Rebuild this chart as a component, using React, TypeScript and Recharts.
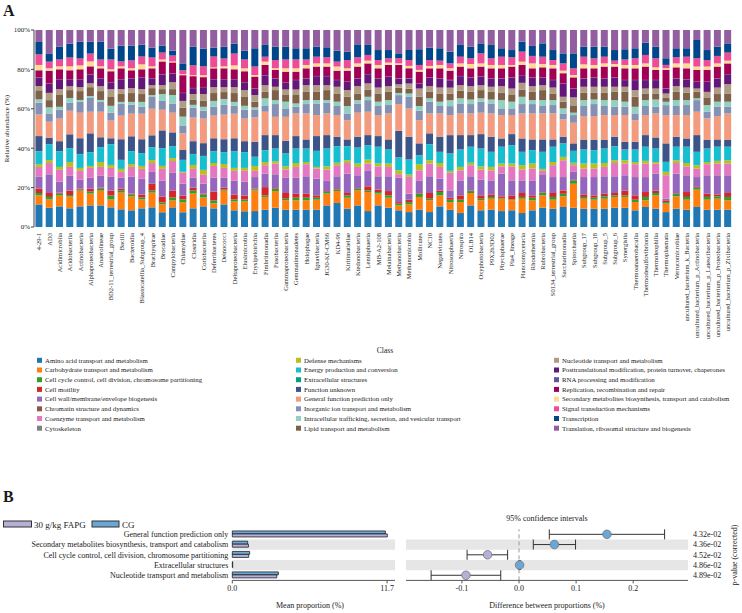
import React from "react";
import {
  BarChart,
  Bar,
  XAxis,
  YAxis,
  ScatterChart,
  Scatter,
  ErrorBar,
  ReferenceArea,
  ReferenceLine,
} from "recharts";

const FONT = "'Liberation Serif', 'Times New Roman', Times, serif";
const INK = "#1a1a1a";

// ---- Panel A: COG function profile per bacterial class (relative abundance, %) ----

const bacterialClasses = [
  "4-29-1", "AD3", "Acidimicrobiia", "Acidobacteriia", "Actinobacteria", "Alphaproteobacteria",
  "Anaerolineae", "BD2-11_terrestrial_group", "Bacilli", "Bacteroidia", "Blastocatellia_Subgroup_4",
  "Brachyspirae", "Brocadiae", "Campylobacteria", "Chlamydiae", "Clostridia", "Coriobacteriia",
  "Deferribacteres", "Deinococci", "Deltaproteobacteria", "Elusimicrobia", "Erysipelotrichia",
  "Fimbriimonadia", "Fusobacteriia", "Gammaproteobacteria", "Gemmatimonadetes", "Holophagae",
  "Ignavibacteria", "JG30-KF-CM66", "KD4-96", "Kiritimatiellae", "Ktedonobacteria", "Lentisphaeria",
  "MB-A2-108", "Melainabacteria", "Methanobacteria", "Methanomicrobia", "Mollicutes", "NC10",
  "Negativicutes", "Nitrososphaeria", "Nitrospira", "OLB14", "Oxyphotobacteria", "P9X2b3D02",
  "Phycisphaerae", "Pla4_lineage", "Planctomycetacia", "Rhodothermia", "Rubrobacteria",
  "S0134_terrestrial_group", "Saccharimonadia", "Spirochaetia", "Subgroup_17", "Subgroup_18",
  "Subgroup_5", "Subgroup_6", "Synergistia", "Thermoanaerobaculia", "Thermodesulfovibrionia",
  "Thermoleophilia", "Thermoplasmata", "Verrucomicrobiae", "uncultured_bacterium_k_Bacteria",
  "uncultured_bacterium_p_Actinobacteria", "uncultured_bacterium_p_Latescibacteria",
  "uncultured_bacterium_p_Proteobacteria", "uncultured_bacterium_p_Zixibacteria",
];

const aminoAcid = [
  11.5, 9.8, 10.5, 9.5, 10.5, 11, 11, 10, 9, 8.5,
  9.5, 10, 7.5, 10, 7.5, 9.5, 10.5, 9.5, 11.5, 8.5,
  8, 8.1, 8.8, 9.8, 8.8, 8.8, 8.8, 8.8, 11, 12.2,
  9.3, 11, 8.1, 11, 9.8, 8.5, 7.6, 8.8, 7.6, 10.5,
  8.8, 7.1, 11, 8.5, 8.8, 8.1, 8.5, 7.1, 8.5, 9.8,
  9.3, 10.2, 9.8, 9.3, 9.3, 9.3, 9.8, 9.8, 8.5, 10.2,
  9.3, 7.6, 9.3, 8.8, 10.2, 8.8, 8.8, 8.8,
];
const carbohydrate = [
  4.6, 4.2, 5.5, 6.0, 8.0, 6, 7.5, 4, 8.5, 7,
  4.5, 7.5, 4, 3.5, 5, 7.5, 4.5, 2.5, 7, 4.5,
  5, 10.5, 6.5, 8.5, 4.8, 4.8, 4.8, 5.1, 6, 6.1,
  5.6, 7.6, 9.7, 6, 5.1, 2.5, 3.9, 6.5, 6.0, 5.6,
  3.9, 5.6, 6.3, 5.1, 5.6, 6.3, 5.1, 7.3, 5.1, 6.3,
  4.6, 5.4, 12.2, 5.1, 4.6, 5.1, 5.5, 5.5, 4.2, 3.4,
  6.8, 4.3, 6.3, 5.1, 8.8, 5.1, 5.6, 4.8,
];
const cellCycle = [
  1.2, 1.3, 1.0, 0.8, 0.5, 1, 1, 2, 1, 1,
  1, 1, 1, 1.5, 1.5, 1.5, 1.5, 1.5, 0.5, 1,
  1, 0.6, 0.8, 1.2, 0.8, 1.3, 1.3, 1.0, 0.8, 0.7,
  1.2, 0.9, 0.8, 0.8, 1.2, 0.9, 1.2, 1.6, 0.8, 1.7,
  1.2, 1.2, 1.0, 0.8, 0.9, 0.4, 0.4, 0.9, 1.3, 1.2,
  1.4, 1.3, 1.7, 0.9, 1.0, 1.2, 0.8, 0.8, 1.2, 1.7,
  1.2, 0.8, 1.3, 1.4, 1.0, 1.4, 1.2, 1.7,
];
const cellMotility = [
  2.2, 2.0, 0.5, 2.2, 0.5, 1.5, 0.5, 2.5, 1, 0.5,
  1.5, 3.5, 3, 3.5, 2, 1.5, 0.5, 4.5, 1, 2.5,
  2, 0.4, 4.2, 0.3, 2.9, 2.0, 2.0, 1.2, 0.4, 0.3,
  1.2, 0.3, 2.1, 1.2, 2.2, 0.8, 1.2, 0.3, 2.9, 0.8,
  1.0, 2.2, 0.3, 1.7, 1.3, 0.8, 2.1, 2.0, 1.2, 0.3,
  2.0, 1.7, 0.3, 1.3, 1.2, 1.3, 1.2, 2.5, 2.2, 2.5,
  1.3, 0.9, 0.3, 2.5, 0.4, 1.6, 1.0, 2.0,
];
const cellWall = [
  6.0, 9.5, 5.5, 7.5, 4.5, 5.5, 6, 7, 5.5, 8.5,
  8, 6, 8, 9, 6, 5, 5, 7, 5, 7,
  7, 5.8, 6.8, 7.0, 7.7, 8.1, 8.9, 8.5, 5.2, 6.5,
  9.8, 6.5, 8.1, 6.8, 7.5, 12.3, 3.0, 6.5, 8.5, 6.0,
  3.7, 7.6, 7.2, 8.0, 7.1, 11.5, 7.6, 6.4, 7.6, 9.2,
  8.1, 6.8, 4.0, 8.8, 9.3, 8.9, 8.5, 7.7, 9.3, 7.6,
  8.5, 0.8, 9.9, 8.5, 5.0, 9.4, 9.7, 9.0,
];
const chromatin = [
  0.05, 0.05, 0.05, 0.05, 0.05, 0.05, 0.05, 0.05, 0.05, 0.05,
  0.05, 0.05, 0.05, 0.05, 0.05, 0.05, 0.05, 0.05, 0.05, 0.05,
  0.05, 0.05, 0.05, 0.05, 0.05, 0.05, 0.05, 0.05, 0.05, 0.05,
  0.05, 0.05, 0.05, 0.05, 0.05, 0.1, 0.1, 0.05, 0.05, 0.05,
  0.1, 0.05, 0.05, 0.05, 0.05, 0.05, 0.05, 0.05, 0.05, 0.05,
  0.05, 0.05, 0.05, 0.05, 0.05, 0.05, 0.05, 0.05, 0.05, 0.05,
  0.05, 0.1, 0.05, 0.05, 0.05, 0.05, 0.05, 0.05,
];
const coenzyme = [
  5.0, 5.7, 6.0, 4.5, 4.5, 5, 4.5, 4.5, 3, 5,
  5, 4.5, 6, 6, 5.5, 4.5, 4.5, 6, 5, 5,
  5.5, 3.1, 4.3, 5.4, 4.2, 5.5, 6.1, 5.1, 5.8, 5.6,
  5.4, 4.2, 3.4, 5.0, 4.7, 1.8, 8.5, 5.1, 6.4, 5.9,
  8.9, 5.1, 5.6, 5.1, 5.1, 3.7, 7.1, 5.5, 6.0, 1.7,
  6.0, 8.5, 3.4, 4.3, 4.3, 4.7, 6.7, 5.9, 6.5, 6.8,
  5.1, 11.9, 5.4, 4.5, 4.3, 5.6, 5.9, 5.9,
];
const cytoskeleton = [
  0.03, 0.03, 0.03, 0.03, 0.03, 0.03, 0.03, 0.03, 0.03, 0.03,
  0.03, 0.03, 0.03, 0.03, 0.03, 0.03, 0.03, 0.03, 0.03, 0.03,
  0.03, 0.03, 0.03, 0.03, 0.03, 0.03, 0.03, 0.03, 0.03, 0.03,
  0.03, 0.03, 0.03, 0.03, 0.03, 0.03, 0.03, 0.03, 0.03, 0.03,
  0.03, 0.03, 0.03, 0.03, 0.03, 0.03, 0.03, 0.03, 0.03, 0.03,
  0.03, 0.03, 0.03, 0.03, 0.03, 0.03, 0.03, 0.03, 0.03, 0.03,
  0.03, 0.03, 0.03, 0.03, 0.03, 0.03, 0.03, 0.03,
];
const defense = [
  1.4, 1.5, 1.5, 2.5, 1.5, 1, 2.5, 1.5, 1.5, 1.5,
  1.5, 1.5, 1.5, 1.5, 0.5, 2, 2.5, 1.5, 2, 1.5,
  1.5, 2.5, 1.6, 1.2, 1.6, 2.0, 1.1, 0.8, 1.6, 1.2,
  1.4, 1.7, 2.0, 1.4, 1.7, 2.0, 1.2, 3.1, 1.7, 2.0,
  1.0, 1.7, 1.2, 1.6, 1.7, 1.4, 1.4, 2.2, 2.5, 1.0,
  1.6, 1.7, 1.2, 2.5, 2.5, 2.0, 1.4, 1.7, 1.1, 1.4,
  0.8, 1.7, 1.4, 1.7, 1.7, 1.1, 1.4, 1.7,
];
const energy = [
  6.6, 8.0, 8.0, 7.0, 7.0, 7, 7.5, 10.5, 4.5, 6.5,
  6.5, 6.5, 9, 6, 6, 5.5, 7, 6, 6, 8.5,
  8, 4.6, 6.0, 6.4, 6.5, 7.3, 6.8, 8.1, 9.0, 8.4,
  7.1, 8.1, 7.3, 8.5, 7.1, 6.5, 7.6, 4.5, 8.1, 5.6,
  8.8, 8.8, 8.1, 9.0, 7.6, 8.5, 9.3, 6.7, 6.8, 8.6,
  7.7, 6.8, 6.0, 7.1, 6.8, 7.3, 7.1, 5.4, 6.3, 7.1,
  6.8, 5.0, 6.8, 8.2, 6.7, 6.8, 7.1, 6.8,
];
const extracellular = [
  0.1, 0.1, 0.1, 0.1, 0.1, 0.1, 0.1, 0.1, 0.1, 0.1,
  0.1, 0.1, 0.1, 0.1, 0.1, 0.1, 0.1, 0.1, 0.1, 0.1,
  0.1, 0.1, 0.1, 0.1, 0.1, 0.1, 0.1, 0.1, 0.1, 0.1,
  0.1, 0.1, 0.1, 0.1, 0.1, 0.1, 0.1, 0.1, 0.1, 0.1,
  0.1, 0.1, 0.1, 0.1, 0.1, 0.1, 0.1, 0.1, 0.1, 0.1,
  0.1, 0.1, 0.1, 0.1, 0.1, 0.1, 0.1, 0.1, 0.1, 0.1,
  0.1, 0.1, 0.1, 0.1, 0.1, 0.1, 0.1, 0.1,
];
const unknownFunction = [
  7.6, 3.3, 5.0, 7.0, 8.0, 9.5, 5, 3, 10.5, 7.5,
  7, 6, 9, 7, 5, 6.5, 6.5, 6.5, 6.5, 6.5,
  5.5, 7.6, 7.6, 6.8, 6.4, 6.3, 4.6, 7.5, 6.8, 4.8,
  3.4, 5.5, 5.1, 5.4, 5.1, 13.5, 11.6, 6.0, 5.5, 7.7,
  9.3, 7.3, 5.9, 7.3, 7.7, 4.2, 5.6, 6.8, 5.4, 6.3,
  3.7, 3.4, 3.8, 4.8, 5.1, 4.3, 4.8, 3.9, 3.9, 5.9,
  5.6, 9.4, 5.1, 4.2, 8.5, 4.3, 3.7, 3.4,
];
const generalFunction = [
  11.0, 8.1, 11.5, 12.0, 13.0, 11, 13, 9, 12, 11.5,
  13, 13.5, 10.5, 10, 8.5, 12, 12.5, 11.5, 12.5, 12.5,
  11.5, 12.4, 11.9, 9.3, 12.2, 11.5, 13.2, 10.7, 11.0, 11.0,
  9.8, 12.2, 11.9, 10.7, 13.2, 13.6, 14.4, 11.8, 10.1, 11.8,
  10.2, 11.0, 11.0, 10.9, 11.8, 11.9, 9.7, 12.7, 13.2, 13.2,
  13.2, 8.8, 10.5, 12.2, 12.2, 12.7, 11.0, 13.6, 11.0, 10.2,
  12.2, 14.4, 11.0, 11.9, 11.9, 11.0, 11.9, 13.5,
];
const inorganicIon = [
  6.0, 4.2, 4.5, 4.0, 5.5, 7, 5, 4, 6, 4.5,
  3.5, 6, 4.5, 4.5, 4, 5, 4, 4.5, 5, 4,
  4.5, 4.1, 2.9, 6.5, 4.3, 3.4, 4.8, 5.9, 5.4, 4.6,
  3.4, 4.7, 5.9, 4.6, 4.3, 4.6, 5.9, 4.8, 6.0, 3.8,
  4.6, 5.1, 4.8, 5.6, 5.1, 3.4, 3.4, 4.8, 4.8, 3.8,
  4.3, 3.0, 3.9, 5.1, 6.1, 4.6, 4.2, 4.2, 3.4, 4.6,
  3.4, 5.1, 4.6, 5.1, 5.9, 3.4, 4.7, 3.4,
];
const intracellular = [
  1.7, 3.1, 1.5, 2.5, 1.0, 1, 1, 3.5, 1, 1.5,
  2.5, 1, 3.5, 4.5, 4.5, 1.5, 2, 3, 3, 2,
  2, 1.0, 3.9, 2.0, 3.4, 1.7, 2.0, 1.7, 1.4, 2.2,
  3.8, 1.7, 1.7, 2.2, 2.5, 1.1, 1.7, 2.4, 1.7, 2.2,
  3.0, 2.6, 2.3, 1.7, 2.0, 4.2, 3.4, 3.7, 2.0, 3.0,
  2.5, 2.6, 1.2, 3.0, 2.3, 3.0, 3.4, 2.6, 3.4, 3.0,
  3.7, 1.7, 3.0, 2.5, 0.9, 3.4, 2.6, 2.6,
];
const lipid = [
  4.6, 3.7, 6.0, 4.0, 4.5, 4.5, 4.5, 4.5, 4, 4.5,
  4, 3.5, 2.5, 3, 4.5, 2.5, 3, 4, 3.5, 4.5,
  4.5, 2.9, 3.3, 5.1, 3.4, 4.3, 4.2, 4.2, 5.1, 4.2,
  4.7, 3.4, 3.7, 4.2, 4.2, 2.7, 2.5, 4.7, 3.3, 4.2,
  3.4, 3.9, 3.9, 4.2, 3.9, 3.7, 3.4, 3.7, 4.2, 5.1,
  3.4, 3.4, 3.4, 3.7, 3.4, 3.7, 4.2, 5.0, 5.1, 3.4,
  3.1, 2.2, 4.2, 3.7, 3.3, 3.9, 3.9, 4.2,
];
const nucleotide = [
  2.2, 3.7, 3.0, 2.0, 2.0, 2, 2.5, 4, 2.5, 2.5,
  2.5, 1.5, 2, 3.5, 3.5, 3, 3.5, 3, 2.5, 3,
  3.5, 3.4, 3.4, 1.7, 2.8, 2.8, 3.4, 3.4, 2.5, 3.4,
  3.4, 3.7, 3.1, 3.0, 2.9, 1.7, 2.6, 4.2, 2.9, 3.0,
  3.0, 2.8, 2.9, 2.5, 2.6, 3.4, 3.3, 3.4, 2.9, 2.5,
  3.0, 2.5, 4.4, 3.1, 3.1, 3.1, 2.6, 2.6, 3.4, 2.5,
  2.5, 2.0, 2.9, 2.7, 1.7, 2.8, 3.3, 4.7,
];
const posttranslational = [
  4.2, 4.8, 5.0, 3.5, 4.0, 4.5, 4, 3.5, 5, 5,
  6, 3.5, 5.5, 4.5, 4, 3, 3.5, 4, 4, 4,
  4, 3.3, 5.0, 4.2, 3.4, 4.8, 3.4, 4.6, 4.6, 3.4,
  4.2, 3.9, 4.7, 4.6, 4.8, 2.9, 2.5, 2.6, 4.4, 4.6,
  3.8, 4.6, 4.4, 4.3, 4.2, 3.9, 5.6, 3.9, 4.4, 3.9,
  3.8, 6.8, 4.5, 4.2, 4.7, 4.2, 4.7, 3.4, 5.1, 4.3,
  4.3, 2.5, 3.9, 4.1, 3.4, 5.1, 4.6, 5.1,
];
const rnaProcessing = [
  0.1, 0.1, 0.1, 0.1, 0.1, 0.1, 0.1, 0.1, 0.1, 0.1,
  0.1, 0.1, 0.1, 0.1, 0.1, 0.1, 0.1, 0.1, 0.1, 0.1,
  0.1, 0.1, 0.1, 0.1, 0.1, 0.1, 0.1, 0.1, 0.1, 0.1,
  0.1, 0.1, 0.1, 0.1, 0.1, 0.2, 0.2, 0.1, 0.1, 0.1,
  0.2, 0.1, 0.1, 0.1, 0.1, 0.1, 0.1, 0.1, 0.1, 0.1,
  0.1, 0.1, 0.1, 0.1, 0.1, 0.1, 0.1, 0.1, 0.1, 0.1,
  0.1, 0.2, 0.1, 0.1, 0.1, 0.1, 0.1, 0.1,
];
const replication = [
  3.7, 6.4, 5.0, 4.5, 5.0, 4, 5, 5.5, 5.5, 4,
  4, 5, 6.5, 5.5, 9, 6, 5, 5.5, 5.5, 5,
  5.5, 6.0, 5.2, 4.3, 5.6, 4.2, 5.1, 4.8, 4.8, 4.7,
  5.6, 6.0, 5.4, 5.1, 5.9, 6.8, 5.1, 5.9, 4.6, 5.1,
  4.7, 4.8, 4.6, 5.1, 5.1, 5.1, 5.5, 5.1, 4.6, 5.1,
  5.9, 5.1, 5.6, 5.1, 4.6, 6.0, 5.5, 5.9, 5.9, 6.8,
  5.1, 9.4, 5.6, 5.6, 6.0, 6.0, 6.0, 5.4,
];
const secondaryMetabolites = [
  2.7, 1.2, 1.5, 2.0, 2.0, 2.5, 1, 1, 1, 1,
  2.5, 1, 1, 0.5, 0.5, 0.5, 1, 0.5, 1, 2,
  1.5, 0.8, 1.7, 0.8, 1.7, 1.7, 1.7, 1.6, 1.6, 2.1,
  1.2, 1.6, 1.4, 1.7, 1.2, 0.8, 1.2, 0.9, 1.2, 1.7,
  1.2, 1.6, 2.2, 1.6, 1.7, 1.7, 0.8, 1.7, 2.5, 1.7,
  1.7, 1.3, 1.2, 2.0, 1.7, 1.6, 1.3, 1.7, 1.7, 1.6,
  1.3, 0.8, 2.0, 2.5, 1.7, 1.7, 1.6, 1.4,
];
const signalTransduction = [
  5.4, 3.4, 3.5, 4.5, 3.5, 4, 3.5, 5, 2.5, 4,
  4, 4.5, 3.5, 3, 2, 5, 4.5, 5.5, 4, 6,
  4.5, 4.3, 2.5, 4.2, 4.5, 4.5, 2.8, 3.4, 3.1, 2.5,
  4.2, 3.1, 2.9, 2.5, 2.2, 2.6, 3.0, 2.5, 3.0, 2.2,
  2.5, 3.4, 2.9, 5.1, 3.4, 4.2, 3.9, 5.1, 3.8, 3.7,
  2.5, 3.7, 3.4, 3.9, 3.4, 3.4, 1.7, 2.8, 3.4, 4.3,
  4.6, 1.7, 3.1, 3.4, 4.2, 3.3, 3.8, 4.1,
];
const transcription = [
  6.3, 4.2, 6.5, 7.0, 8.5, 6, 9, 5.5, 8, 7.5,
  6, 5, 3.5, 2.5, 3.5, 9.5, 9, 4.5, 6, 5,
  4.5, 9.3, 6.0, 6.8, 6.5, 5.7, 5.7, 5.1, 5.1, 5.6,
  4.3, 6.6, 5.1, 5.1, 4.2, 2.5, 5.1, 8.0, 6.3, 6.3,
  6.0, 6.0, 5.9, 5.1, 6.8, 4.3, 3.7, 5.1, 5.1, 6.8,
  5.1, 5.1, 7.6, 5.1, 5.9, 5.1, 5.4, 5.2, 5.1, 6.3,
  5.9, 3.4, 4.6, 4.3, 9.3, 5.1, 4.7, 4.7,
];
const translation = [
  6.1, 11.9, 8.5, 7.0, 6.0, 6, 6, 9.5, 8, 8,
  7.5, 9, 8, 10.5, 17, 8.5, 9.5, 9, 8.5, 7,
  10.5, 9.3, 7.6, 8.5, 8.5, 9.3, 9.3, 8.5, 8.8, 10.5,
  11, 7.3, 7.6, 10.2, 10.2, 11.9, 10.2, 9.8, 9.0, 9.3,
  11.0, 7.6, 8.5, 6.8, 7.6, 9.3, 10.2, 5.9, 8.1, 6.8,
  10.2, 11.9, 11.9, 8.5, 8.5, 8.5, 10.2, 9.8, 9.3, 6.4,
  8.5, 14.4, 9.3, 9.3, 5.1, 10.2, 8.5, 6.8,
];

// stacked bottom -> top, same order as the legend (column by column)
const cogSeries = [
  { key: "aminoAcid", label: "Amino acid transport and metabolism", color: "#1F77B4", values: aminoAcid },
  { key: "carbohydrate", label: "Carbohydrate transport and metabolism", color: "#FF7F0E", values: carbohydrate },
  { key: "cellCycle", label: "Cell cycle control, cell division, chromosome partitioning", color: "#2CA02C", values: cellCycle },
  { key: "cellMotility", label: "Cell motility", color: "#D62728", values: cellMotility },
  { key: "cellWall", label: "Cell wall/membrane/envelope biogenesis", color: "#9467BD", values: cellWall },
  { key: "chromatin", label: "Chromatin structure and dynamics", color: "#8C564B", values: chromatin },
  { key: "coenzyme", label: "Coenzyme transport and metabolism", color: "#E377C2", values: coenzyme },
  { key: "cytoskeleton", label: "Cytoskeleton", color: "#7F7F7F", values: cytoskeleton },
  { key: "defense", label: "Defense mechanisms", color: "#BCBD22", values: defense },
  { key: "energy", label: "Energy production and conversion", color: "#17BECF", values: energy },
  { key: "extracellular", label: "Extracellular structures", color: "#00A087", values: extracellular },
  { key: "unknownFunction", label: "Function unknown", color: "#3C5488", values: unknownFunction },
  { key: "generalFunction", label: "General function prediction only", color: "#F39B7F", values: generalFunction },
  { key: "inorganicIon", label: "Inorganic ion transport and metabolism", color: "#8491B4", values: inorganicIon },
  { key: "intracellular", label: "Intracellular trafficking, secretion, and vesicular transport", color: "#91D1C2", values: intracellular },
  { key: "lipid", label: "Lipid transport and metabolism", color: "#7E6148", values: lipid },
  { key: "nucleotide", label: "Nucleotide transport and metabolism", color: "#B09C85", values: nucleotide },
  { key: "posttranslational", label: "Posttranslational modification, protein turnover, chaperones", color: "#631879", values: posttranslational },
  { key: "rnaProcessing", label: "RNA processing and modification", color: "#5F559B", values: rnaProcessing },
  { key: "replication", label: "Replication, recombination and repair", color: "#A20056", values: replication },
  { key: "secondaryMetabolites", label: "Secondary metabolites biosynthesis, transport and catabolism", color: "#FFDC91", values: secondaryMetabolites },
  { key: "signalTransduction", label: "Signal transduction mechanisms", color: "#EE4C97", values: signalTransduction },
  { key: "transcription", label: "Transcription", color: "#00468B", values: transcription },
  { key: "translation", label: "Translation, ribosomal structure and biogenesis", color: "#925E9F", values: translation },
];

const abundanceRows = bacterialClasses.map((name, i) => {
  const row: Record<string, string | number> = { name };
  cogSeries.forEach((s) => {
    row[s.key] = s.values[i];
  });
  return row;
});

// ---- Panel B: STAMP comparison, 30 g/kg FAPG vs CG ----

const stampFunctions = [
  "General function prediction only",
  "Secondary metabolites biosynthesis, transport and catabolism",
  "Cell cycle control, cell division, chromosome partitioning",
  "Extracellular structures",
  "Nucleotide transport and metabolism",
];
const meanCG = [11.57, 1.16, 1.31, 0.03, 3.48];
const meanFAPG = [11.72, 1.22, 1.24, 0.03, 3.36];
const diffMean = [0.154, 0.062, -0.055, 0.001, -0.093];
const ciLow = [0.053, 0.025, -0.091, 0.0, -0.154];
const ciHigh = [0.255, 0.099, -0.02, 0.002, -0.032];
const pValues = ["4.32e-02", "4.36e-02", "4.52e-02", "4.86e-02", "4.89e-02"];

const CG_COLOR = "#6BA7D6";
const FAPG_COLOR = "#B6B0D8";
const BAND = "#E6E6E6";

const meanRows = stampFunctions.map((name, i) => ({ name, cg: meanCG[i], fapg: meanFAPG[i] }));
const diffRows = stampFunctions.map((name, i) => ({
  name,
  row: i + 1,
  diff: diffMean[i],
  err: [diffMean[i] - ciLow[i], ciHigh[i] - diffMean[i]],
}));

const ClassTick = ({ x, y, payload }: any) => (
  <text
    transform={`translate(${x + 2.3},${y + 4}) rotate(-90)`}
    textAnchor="end"
    fontSize={6.5}
    fontFamily={FONT}
    fill={INK}
  >
    {payload.value}
  </text>
);

const FunctionTick = ({ x, y, payload }: any) => (
  <text x={x} y={y} dy={2.8} textAnchor="end" fontSize={8} fontFamily={FONT} fill={INK}>
    {payload.value}
  </text>
);

const PValueTick = ({ x, y, payload }: any) => (
  <text x={x} y={y} dy={2.8} textAnchor="start" fontSize={8} fontFamily={FONT} fill={INK} stroke="none">
    {pValues[payload.value - 1]}
  </text>
);

const DiffDot = ({ cx, cy, payload }: any) => (
  <circle cx={cx} cy={cy} r={4.3} fill={payload.diff > 0 ? CG_COLOR : FAPG_COLOR} stroke="#6a6a6a" strokeWidth={0.7} />
);

const legendX = [37, 296, 554];

export default function App() {
  return (
    <div style={{ position: "absolute", left: 0, top: 0, width: 742, height: 613, background: "#fff" }}>
      <div style={{ position: "absolute", left: 0, top: 0 }}>
        <BarChart
          width={742}
          height={350}
          data={abundanceRows}
          stackOffset="expand"
          barCategoryGap="14%"
          margin={{ top: 30, right: 9, left: 12, bottom: 3 }}
        >
          <XAxis
            dataKey="name"
            interval={0}
            height={120}
            tickSize={0}
            tickLine={false}
            axisLine={false}
            tick={(p: any) => <ClassTick {...p} />}
          />
          <YAxis
            width={22}
            domain={[0, 1]}
            ticks={[0, 0.2, 0.4, 0.6, 0.8, 1]}
            tickFormatter={(v: number) => `${Math.round(v * 100)}%`}
            tick={{ fontSize: 7, fill: INK, fontFamily: FONT }}
            tickSize={3}
            tickMargin={1}
            stroke="#444"
          />
          {cogSeries.map((s) => (
            <Bar key={s.key} dataKey={s.key} stackId="cog" fill={s.color} isAnimationActive={false} />
          ))}
        </BarChart>
      </div>

      <div style={{ position: "absolute", left: 0, top: 520 }}>
        <BarChart
          layout="vertical"
          width={400}
          height={93}
          data={meanRows}
          barCategoryGap="17%"
          barGap={0}
          margin={{ top: 9.2, right: 5, left: 0, bottom: 0 }}
        >
          <ReferenceArea y1={stampFunctions[1]} y2={stampFunctions[1]} fill={BAND} fillOpacity={1} stroke="none" />
          <ReferenceArea y1={stampFunctions[3]} y2={stampFunctions[3]} fill={BAND} fillOpacity={1} stroke="none" />
          <XAxis
            type="number"
            domain={[0, 12.3]}
            ticks={[0, 11.7]}
            tickFormatter={(v: number) => v.toFixed(1)}
            height={32.6}
            tickSize={3}
            stroke="#555"
            tick={{ fontSize: 8, fill: INK, fontFamily: FONT }}
          />
          <YAxis
            type="category"
            dataKey="name"
            width={232.3}
            interval={0}
            axisLine={false}
            tickLine={false}
            tickSize={0}
            tickMargin={4}
            tick={(p: any) => <FunctionTick {...p} />}
          />
          <Bar dataKey="cg" fill={CG_COLOR} stroke="#222" strokeWidth={0.8} isAnimationActive={false} />
          <Bar dataKey="fapg" fill={FAPG_COLOR} stroke="#222" strokeWidth={0.8} isAnimationActive={false} />
        </BarChart>
      </div>

      <div style={{ position: "absolute", left: 0, top: 520 }}>
        <ScatterChart width={742} height={93} margin={{ top: 9.2, right: 10, left: 406, bottom: 0 }}>
          <ReferenceArea y1={1.5} y2={2.5} fill={BAND} fillOpacity={1} stroke="none" />
          <ReferenceArea y1={3.5} y2={4.5} fill={BAND} fillOpacity={1} stroke="none" />
          <ReferenceLine x={0} stroke="#999" strokeDasharray="4 3" />
          <XAxis
            type="number"
            dataKey="diff"
            domain={[-0.198, 0.296]}
            ticks={[-0.1, 0, 0.1, 0.2]}
            tickFormatter={(v: number) => v.toFixed(1)}
            height={32.6}
            tickSize={3}
            stroke="#555"
            allowDataOverflow
            tick={{ fontSize: 8, fill: INK, fontFamily: FONT }}
          />
          <YAxis
            type="number"
            dataKey="row"
            orientation="right"
            domain={[0.5, 5.5]}
            reversed
            ticks={[1, 2, 3, 4, 5]}
            interval={0}
            width={44}
            axisLine={false}
            tickLine={false}
            tickSize={0}
            tickMargin={5}
            tick={(p: any) => <PValueTick {...p} />}
          />
          <Scatter data={diffRows} isAnimationActive={false} shape={(p: any) => <DiffDot {...p} />}>
            <ErrorBar dataKey="err" direction="x" width={5} stroke="#333" strokeWidth={1} />
          </Scatter>
        </ScatterChart>
      </div>

      <svg
        width={742}
        height={613}
        style={{ position: "absolute", left: 0, top: 0, pointerEvents: "none" }}
        fontFamily={FONT}
        fill={INK}
      >
        <text x={3} y={16} fontSize={16} fontWeight="bold">A</text>
        <text transform="translate(9,128.5) rotate(-90)" textAnchor="middle" fontSize={7}>
          Relative abundance (%)
        </text>
        <text x={385} y={352.5} textAnchor="middle" fontSize={7.5}>Class</text>
        {cogSeries.map((s, i) => {
          const col = Math.floor(i / 8);
          const cy = 360.3 + (i % 8) * 9.7;
          return (
            <g key={s.key}>
              <rect x={legendX[col]} y={cy - 2.5} width={5} height={5} fill={s.color} />
              <text x={legendX[col] + 8} y={cy + 2.3} fontSize={6.8}>{s.label}</text>
            </g>
          );
        })}

        <text x={3} y={502} fontSize={16} fontWeight="bold">B</text>
        <rect x={3.5} y={521} width={28} height={6} fill={FAPG_COLOR} stroke="#333" strokeWidth={1} />
        <text x={34} y={527.5} fontSize={9}>30 g/kg FAPG</text>
        <rect x={92} y={521} width={27} height={6} fill={CG_COLOR} stroke="#333" strokeWidth={1} />
        <text x={122} y={527.5} fontSize={9}>CG</text>
        <text x={547} y={520.5} textAnchor="middle" fontSize={8}>95% confidence intervals</text>
        <text transform="translate(737,555) rotate(-90)" textAnchor="middle" fontSize={8}>
          p-value (corrected)
        </text>
        <text x={310} y={608} textAnchor="middle" fontSize={8}>Mean proportion (%)</text>
        <text x={547} y={608} textAnchor="middle" fontSize={8}>Difference between proportions (%)</text>
      </svg>
    </div>
  );
}
